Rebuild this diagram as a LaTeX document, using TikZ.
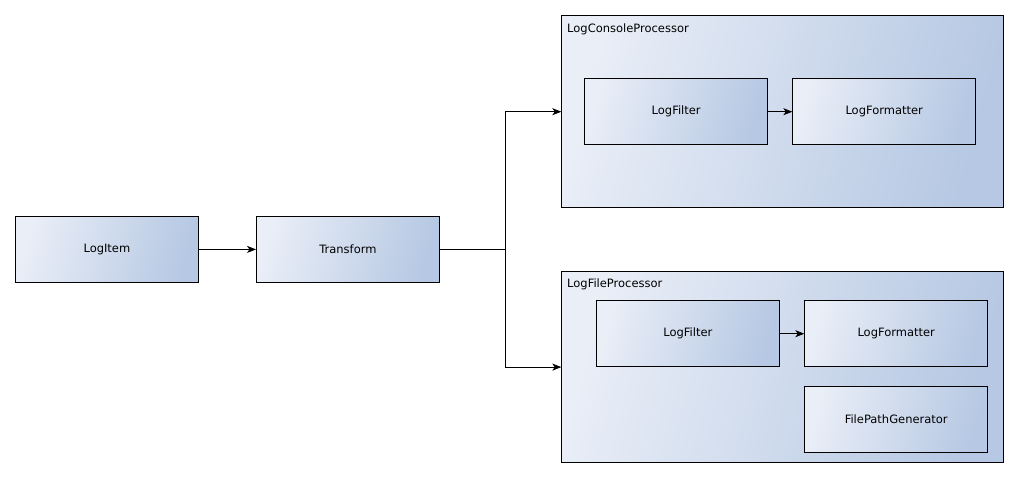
\documentclass[tikz,border=0pt]{standalone}
\usepackage{fontspec}
\setmainfont{DejaVu Sans}
\usetikzlibrary{arrows.meta}
\definecolor{gradL}{RGB}{233,238,247}
\definecolor{gradR}{RGB}{182,200,227}
\tikzset{
  gfill/.style={left color=gradL, right color=gradR, shading angle=75},
  box/.style={draw=black, line width=0.8pt, gfill,
    anchor=north west, inner sep=0pt, minimum width=183pt, minimum height=66pt,
    font=\fontsize{11.5}{14}\selectfont},
  container/.style={draw=black, line width=0.8pt, gfill,
    anchor=north west, inner sep=0pt, minimum width=442pt, minimum height=191.5pt},
  clabel/.style={anchor=west, inner sep=0pt, font=\fontsize{11.5}{14}\selectfont},
  conn/.style={draw=black, line width=0.8pt},
  arr/.style={conn, -{Stealth[length=9pt,width=7pt,inset=2.5pt]}}
}
\begin{document}
\begin{tikzpicture}[x=1pt,y=-1pt]
\useasboundingbox[fill=white] (0,0) rectangle (1019,477);
% left chain
\node[box] (item) at (15,216) {LogItem};
\node[box] (trans) at (256,216) {Transform};
% console processor
\node[container] (console) at (561.3,15) {};
\node[clabel] (consolelbl) at ([shift={(5.7,14)}]console.north west) {LogConsoleProcessor};
\node[box] (cf) at (584.3,78.3) {LogFilter};
\node[box] (cfo) at (792.3,78.3) {LogFormatter};
% file processor
\node[container] (file) at (561.3,270.7) {};
\node[clabel] (filelbl) at ([shift={(5.7,13.5)}]file.north west) {LogFileProcessor};
\node[box] (ff) at (596,300.3) {LogFilter};
\node[box] (ffo) at (804.3,300.3) {LogFormatter};
\node[box] (fpg) at (804.3,386.3) {FilePathGenerator};
% connectors
\coordinate (split) at ([xshift=66pt]trans.east);
\draw[arr] (item.east) -- (trans.west);
\draw[conn] (trans.east) -- (split);
\draw[arr] (split) |- (cf.west -| console.west);
\draw[arr] (split) |- (file.west |- ff.south);
\draw[arr] (cf.east) -- (cfo.west);
\draw[arr] (ff.east) -- (ffo.west);
\end{tikzpicture}
\end{document}
